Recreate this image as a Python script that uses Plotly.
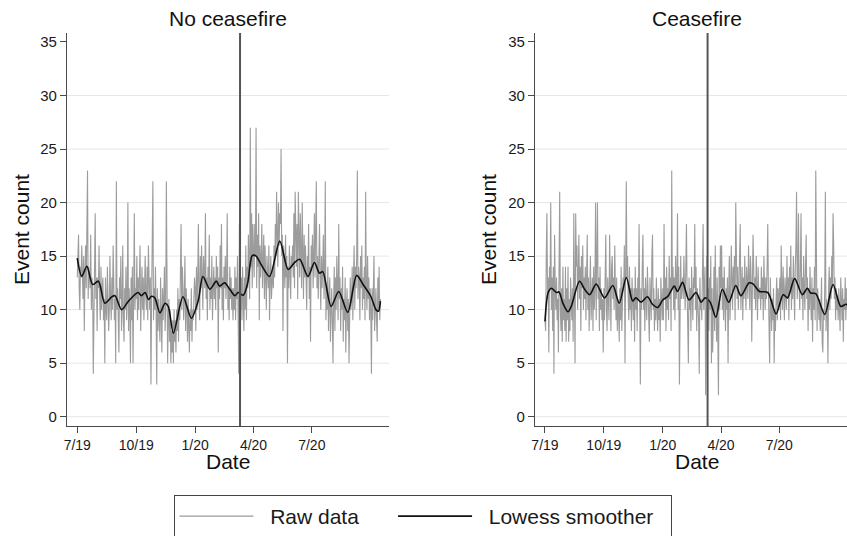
import pandas as pd
import plotly.graph_objects as go

# ---------------- data ----------------
start_date = "2019-07-01"
event_date = "2020-03-11"

month_starts = ["2019-07-01", "2019-08-01", "2019-09-01", "2019-10-01", "2019-11-01", "2019-12-01",
                "2020-01-01", "2020-02-01", "2020-03-01", "2020-04-01", "2020-05-01", "2020-06-01",
                "2020-07-01", "2020-08-01", "2020-09-01", "2020-10-01"]

# daily event counts, one list per month (No ceasefire)
raw_no_ceasefire = [
    [13, 15, 17, 12, 10, 14, 13, 16, 12, 11, 15, 8, 13, 16, 12, 19, 23, 11, 14, 13, 12, 17, 10, 13, 12, 4, 12, 15, 19, 11, 13],
    [8, 13, 12, 16, 11, 9, 14, 10, 12, 13, 9, 11, 5, 13, 10, 9, 14, 12, 8, 10, 15, 11, 9, 13, 10, 16, 12, 9, 11, 5, 22],
    [10, 12, 9, 6, 13, 11, 15, 8, 10, 16, 9, 7, 12, 10, 14, 9, 11, 20, 8, 12, 10, 5, 13, 9, 14, 5, 11, 19, 10, 12],
    [11, 15, 9, 13, 10, 12, 16, 8, 11, 14, 10, 13, 9, 12, 15, 11, 10, 14, 9, 16, 12, 10, 13, 3, 11, 15, 22, 9, 12, 10, 14],
    [10, 3, 12, 8, 11, 9, 7, 13, 10, 6, 12, 9, 11, 14, 8, 10, 22, 12, 5, 9, 11, 7, 10, 5, 8, 6, 9, 5, 10, 7],
    [9, 6, 10, 8, 12, 7, 11, 9, 13, 18, 10, 14, 12, 9, 11, 15, 8, 12, 10, 7, 11, 9, 6, 10, 8, 12, 7, 10, 9, 11, 13],
    [12, 8, 14, 10, 13, 18, 11, 9, 15, 12, 16, 13, 10, 15, 14, 12, 19, 11, 13, 9, 14, 12, 17, 10, 13, 11, 15, 9, 12, 14, 11],
    [13, 10, 15, 12, 14, 6, 13, 11, 16, 12, 18, 10, 13, 9, 14, 12, 15, 11, 13, 19, 10, 12, 9, 14, 11, 13, 10, 12, 9],
    [12, 10, 14, 9, 13, 11, 15, 8, 4, 18, 12, 10, 13, 9, 14, 11, 8, 13, 10, 16, 9, 14, 12, 17, 15, 11, 27, 14, 19, 12, 18],
    [16, 13, 18, 15, 27, 12, 17, 14, 19, 9, 16, 13, 15, 18, 12, 14, 17, 11, 16, 13, 10, 15, 14, 12, 16, 9, 13, 15, 11, 14],
    [14, 12, 16, 13, 18, 15, 21, 17, 14, 20, 16, 19, 18, 25, 15, 17, 8, 16, 14, 12, 17, 13, 15, 5, 14, 12, 16, 13, 11, 15, 14],
    [16, 13, 19, 12, 21, 15, 14, 18, 11, 21, 16, 13, 19, 15, 12, 20, 14, 11, 17, 13, 16, 12, 10, 15, 13, 18, 11, 14, 7, 16],
    [14, 17, 12, 15, 19, 13, 16, 22, 12, 15, 11, 14, 18, 13, 10, 15, 12, 14, 17, 11, 13, 22, 9, 12, 10, 14, 8, 11, 13, 7, 10],
    [12, 9, 5, 11, 14, 8, 13, 10, 15, 12, 9, 18, 11, 13, 8, 12, 10, 14, 7, 11, 9, 13, 6, 10, 12, 8, 11, 5, 9, 13, 10],
    [11, 14, 9, 13, 16, 10, 14, 12, 15, 23, 11, 14, 13, 9, 15, 12, 16, 10, 13, 11, 14, 9, 21, 12, 10, 15, 11, 13, 9, 12],
    [10, 4, 12, 9, 11, 15, 8, 10, 12, 9, 7, 13, 10, 14, 9, 11],
]

# daily event counts, one list per month (Ceasefire)
raw_ceasefire = [
    [9, 8, 15, 19, 11, 13, 6, 14, 12, 20, 10, 13, 8, 14, 4, 17, 12, 10, 13, 9, 11, 6, 14, 21, 10, 8, 12, 7, 14, 9, 11],
    [8, 14, 7, 12, 9, 14, 7, 11, 8, 13, 10, 9, 12, 7, 19, 11, 5, 19, 14, 16, 10, 13, 17, 11, 14, 8, 15, 12, 16, 10, 13],
    [11, 14, 9, 12, 17, 10, 13, 8, 12, 15, 9, 11, 13, 8, 14, 10, 12, 20, 9, 15, 20, 11, 13, 8, 14, 10, 12, 9, 11, 6],
    [12, 9, 14, 17, 10, 8, 13, 11, 9, 17, 12, 8, 14, 15, 11, 13, 10, 16, 12, 9, 13, 8, 11, 10, 7, 12, 9, 14, 8, 11, 13],
    [12, 16, 5, 19, 22, 13, 15, 11, 9, 14, 10, 12, 8, 13, 11, 9, 12, 7, 14, 10, 12, 8, 13, 11, 18, 9, 3, 12, 10, 14],
    [17, 10, 12, 8, 13, 11, 9, 14, 12, 10, 7, 13, 11, 9, 15, 17, 10, 12, 8, 11, 9, 13, 10, 8, 12, 9, 11, 7, 13, 10, 9],
    [12, 9, 18, 11, 13, 8, 14, 10, 12, 9, 15, 11, 13, 8, 23, 12, 14, 10, 13, 9, 15, 11, 12, 19, 10, 14, 3, 12, 15, 11, 13],
    [13, 11, 15, 12, 10, 14, 18, 12, 9, 5, 13, 10, 12, 8, 14, 11, 9, 13, 12, 18, 10, 14, 8, 12, 11, 9, 4, 13, 10],
    [11, 9, 13, 18, 10, 12, 14, 2, 11, 15, 9, 12, 8, 13, 10, 15, 5, 12, 6, 10, 14, 8, 16, 11, 7, 13, 9, 2, 14, 10, 16],
    [12, 16, 10, 13, 9, 14, 11, 8, 12, 10, 13, 5, 12, 15, 9, 11, 16, 13, 10, 14, 12, 15, 9, 20, 13, 11, 14, 10, 12, 15],
    [18, 10, 12, 14, 9, 13, 11, 15, 12, 10, 14, 13, 11, 16, 12, 10, 15, 13, 7, 12, 17, 14, 11, 13, 10, 15, 12, 9, 14, 11, 12],
    [12, 10, 14, 11, 13, 9, 15, 12, 10, 13, 11, 14, 18, 12, 9, 5, 13, 10, 8, 11, 9, 12, 5, 10, 8, 11, 13, 9, 12, 10],
    [11, 13, 9, 16, 12, 10, 14, 11, 9, 13, 12, 10, 15, 11, 13, 9, 14, 12, 16, 10, 13, 11, 15, 12, 9, 14, 16, 21, 11, 13, 19],
    [12, 10, 14, 19, 11, 13, 9, 15, 12, 10, 14, 17, 11, 13, 8, 12, 10, 14, 11, 9, 13, 7, 12, 10, 14, 9, 23, 11, 8, 12, 10],
    [9, 11, 8, 10, 13, 7, 6, 10, 9, 12, 21, 8, 11, 10, 5, 12, 14, 10, 13, 11, 15, 12, 19, 16, 11, 13, 9, 12, 10, 11],
    [9, 12, 10, 8, 13, 11, 9, 12, 7, 11, 10, 13, 9, 12, 10, 11],
]

# lowess smoother, read at days after 2019-07-01
smooth_days_no_ceasefire = [0, 7, 15, 24, 33, 43, 54, 59, 69, 80, 95, 100, 106, 111, 116, 121, 129, 137, 142, 150,
                            165, 178, 189, 196, 207, 217, 222, 230, 238, 246, 251, 259, 266, 273, 279, 287, 300,
                            316, 329, 339, 347, 360, 370, 378, 383, 396, 408, 422, 436, 446, 458, 466, 470, 473]
smooth_no_ceasefire = [14.8, 13.1, 14.05, 12.35, 12.66, 10.6, 11.2, 11.3, 10.0, 10.8, 11.6, 11.3, 11.6, 10.95,
                       11.25, 11.1, 9.7, 10.6, 10.3, 7.8, 11.2, 9.2, 10.9, 13.1, 11.9, 12.66, 12.2, 12.5, 11.9,
                       11.3, 11.6, 11.35, 12.5, 15.05, 15.0, 14.2, 13.1, 16.4, 13.75, 14.4, 14.7, 13.1, 14.4,
                       13.4, 13.55, 10.3, 11.7, 9.75, 13.2, 12.35, 11.25, 10.0, 9.85, 10.8]

smooth_days_ceasefire = [0, 5, 10, 18, 22, 28, 36, 41, 54, 62, 70, 80, 93, 106, 116, 127, 137, 142, 150, 160,
                         168, 176, 184, 192, 202, 207, 215, 225, 236, 244, 250, 258, 267, 277, 287, 298, 306,
                         319, 325, 335, 348, 361, 372, 379, 390, 402, 410, 415, 423, 437, 450, 462, 470, 473]
smooth_ceasefire = [8.9, 11.6, 12.0, 11.6, 11.65, 10.6, 9.8, 10.3, 12.65, 11.9, 11.4, 12.4, 11.1, 12.25, 10.6,
                    13.0, 10.8, 11.1, 10.7, 11.2, 10.5, 10.2, 10.9, 11.25, 12.2, 11.7, 12.55, 10.9, 11.6, 10.7,
                    11.1, 10.7, 9.3, 11.9, 10.7, 12.25, 11.3, 12.5, 12.4, 11.7, 11.6, 9.6, 11.4, 11.1, 12.9,
                    11.4, 12.0, 11.55, 11.5, 9.55, 12.35, 10.3, 10.5, 10.4]

tick_dates = ["2019-07-01", "2019-10-01", "2020-01-01", "2020-04-01", "2020-07-01"]
tick_labels = ["7/19", "10/19", "1/20", "4/20", "7/20"]
y_ticks = [0, 5, 10, 15, 20, 25, 30, 35]
grid_values = [0, 5, 10, 15, 20, 25, 30]

panel_titles = ["No ceasefire", "Ceasefire"]
legend_labels = ["Raw data", "Lowess smoother"]

# ---------------- helpers ----------------
def month_series(months_vals):
    xs, ys = [], []
    for ms, vals in zip(month_starts, months_vals):
        xs.extend(pd.date_range(ms, periods=len(vals), freq="D"))
        ys.extend(vals)
    return xs, ys

def smooth_dates(days):
    return [pd.Timestamp(start_date) + pd.Timedelta(days=d) for d in days]

W, H = 847, 536
FONT = "Liberation Sans, Arial, Helvetica, sans-serif"
RAW_COLOR = "#9c9c9c"
AXIS_COLOR = "#4a4a4a"
SMOOTH_COLOR = "#111111"
NBSP = "\u00a0"

fig = go.Figure()

x_nc, y_nc = month_series(raw_no_ceasefire)
x_c, y_c = month_series(raw_ceasefire)

fig.add_trace(go.Scatter(x=x_nc, y=y_nc, mode="lines", name=NBSP * 2 + legend_labels[0] + NBSP * 5,
                         line=dict(color=RAW_COLOR, width=1.1), xaxis="x", yaxis="y", showlegend=True))
fig.add_trace(go.Scatter(x=smooth_dates(smooth_days_no_ceasefire), y=smooth_no_ceasefire, mode="lines",
                         name=NBSP * 2 + legend_labels[1] + NBSP * 2,
                         line=dict(color=SMOOTH_COLOR, width=1.6, shape="spline", smoothing=0.8),
                         xaxis="x", yaxis="y", showlegend=True))
fig.add_trace(go.Scatter(x=x_c, y=y_c, mode="lines", name=legend_labels[0],
                         line=dict(color=RAW_COLOR, width=1.1), xaxis="x2", yaxis="y2", showlegend=False))
fig.add_trace(go.Scatter(x=smooth_dates(smooth_days_ceasefire), y=smooth_ceasefire, mode="lines",
                         name=legend_labels[1],
                         line=dict(color=SMOOTH_COLOR, width=1.6, shape="spline", smoothing=0.8),
                         xaxis="x2", yaxis="y2", showlegend=False))

# pixel layout
left_dom = [67 / W, 389 / W]
right_dom = [535 / W, 1.0]
y_dom = [1 - 426 / H, 1 - 33 / H]

xcommon = dict(type="date", tickmode="array", tickvals=tick_dates, ticktext=tick_labels,
               ticks="outside", ticklen=6, tickwidth=1.2, tickcolor=AXIS_COLOR,
               showline=True, linecolor=AXIS_COLOR, linewidth=1.3, showgrid=False, zeroline=False,
               tickfont=dict(family=FONT, size=14, color="#1a1a1a"), fixedrange=True, automargin=False)
ycommon = dict(range=[-0.87, 35.84], tickmode="array", tickvals=y_ticks,
               ticks="outside", ticklen=6, tickwidth=1.2, tickcolor=AXIS_COLOR,
               showline=True, linecolor=AXIS_COLOR, linewidth=1.3, showgrid=False, zeroline=False,
               tickfont=dict(family=FONT, size=15, color="#1a1a1a"), domain=y_dom, fixedrange=True,
               automargin=False)

fig.update_layout(
    width=W, height=H,
    margin=dict(l=0, r=0, t=0, b=0, autoexpand=False),
    paper_bgcolor="white", plot_bgcolor="white",
    font=dict(family=FONT, color="#1a1a1a"),
    xaxis=dict(domain=left_dom, range=["2019-06-15", "2020-10-29 10:00"], anchor="y", **xcommon),
    yaxis=dict(anchor="x", **ycommon),
    xaxis2=dict(domain=right_dom, range=["2019-06-15 10:00", "2020-10-14 19:00"], anchor="y2", **xcommon),
    yaxis2=dict(anchor="x2", **ycommon),
    legend=dict(orientation="h", x=422.5 / W, xanchor="center", y=1 - 495 / H, yanchor="top",
                bordercolor="#444444", borderwidth=1, font=dict(family=FONT, size=21, color="#1a1a1a"),
                itemwidth=74, bgcolor="white"),
    showlegend=True,
)

shapes = []
for xr, yr in (("x", "y"), ("x2", "y2")):
    for v in grid_values:
        shapes.append(dict(type="line", xref=f"{xr} domain", yref=yr, x0=0, x1=1, y0=v, y1=v,
                           line=dict(color="#e6e6e6", width=1), layer="below"))
    shapes.append(dict(type="line", xref=xr, yref=f"{yr} domain", x0=event_date, x1=event_date, y0=0, y1=1,
                       line=dict(color="#555555", width=2), layer="above"))
fig.update_layout(shapes=shapes)

annotations = []
centers = [228 / W, 697 / W]
ytitle_x = [21 / W, 488 / W]
for i in range(2):
    annotations.append(dict(text=panel_titles[i], x=centers[i], y=1 - 19 / H, xref="paper", yref="paper",
                            showarrow=False, font=dict(family=FONT, size=21, color="#111111"),
                            xanchor="center", yanchor="middle"))
    annotations.append(dict(text="Date", x=centers[i], y=1 - 461 / H, xref="paper", yref="paper",
                            showarrow=False, font=dict(family=FONT, size=21, color="#111111"),
                            xanchor="center", yanchor="middle"))
    annotations.append(dict(text="Event count", x=ytitle_x[i], y=1 - 230 / H, xref="paper", yref="paper",
                            showarrow=False, textangle=-90, font=dict(family=FONT, size=21, color="#111111"),
                            xanchor="center", yanchor="middle"))
fig.update_layout(annotations=annotations)

fig.write_html("out.html", config={"displayModeBar": False},
               post_script="document.body.style.margin='0';document.body.style.overflow='hidden';")
